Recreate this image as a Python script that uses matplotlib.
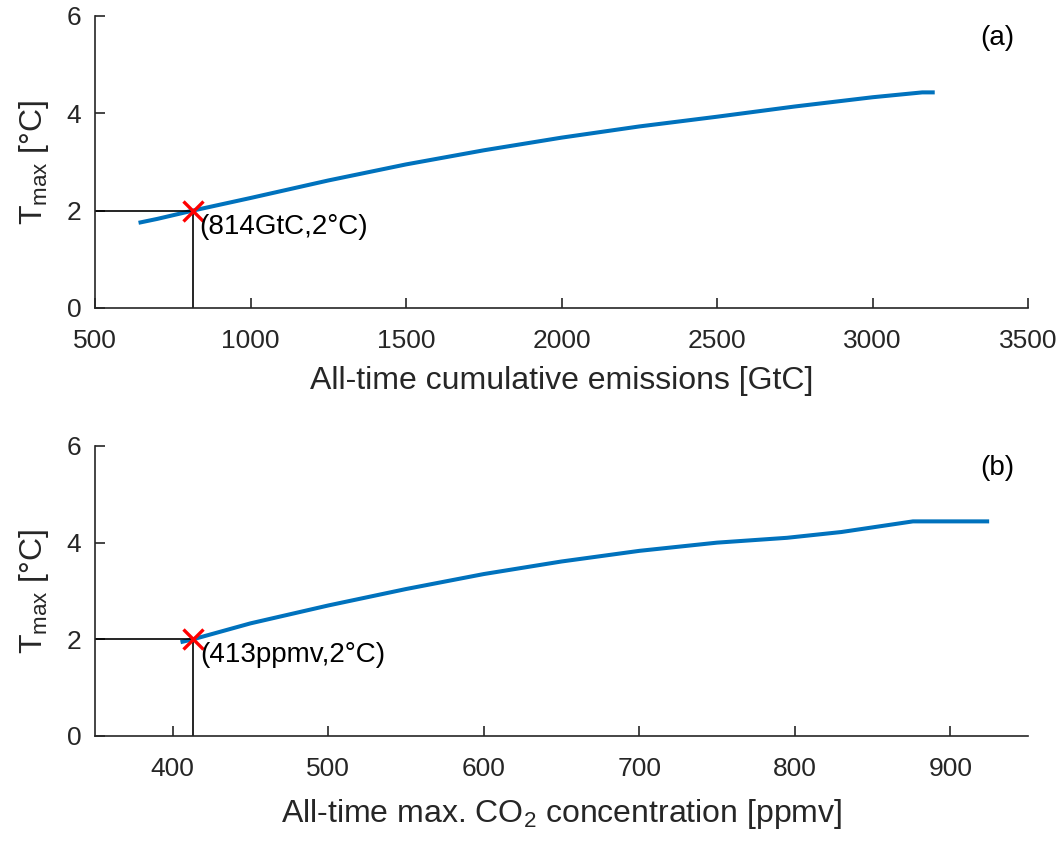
import matplotlib
matplotlib.use("Agg")
import matplotlib.pyplot as plt

plt.rcParams['font.family'] = ['Liberation Sans', 'DejaVu Sans']
plt.rcParams['mathtext.fontset'] = 'custom'
plt.rcParams['mathtext.rm'] = 'Liberation Sans'

# panel (a): cumulative emissions vs peak warming
emis = [640, 700, 814, 1000, 1250, 1500, 1750, 2000, 2250, 2500, 2750, 3000, 3160, 3200]
tmax_a = [1.75, 1.83, 2.0, 2.26, 2.62, 2.95, 3.24, 3.50, 3.73, 3.93, 4.14, 4.33, 4.43, 4.43]

# panel (b): max CO2 concentration vs peak warming
co2 = [405, 413, 450, 500, 550, 600, 650, 700, 750, 795, 830, 876, 925]
tmax_b = [1.94, 2.0, 2.33, 2.70, 3.04, 3.35, 3.61, 3.83, 4.00, 4.10, 4.22, 4.44, 4.44]

pt_a = (814, 2)
pt_b = (413, 2)

blue = '#0072BD'
dark = '#262626'

fig = plt.figure(figsize=(10.64, 8.41), dpi=100)
ax1 = fig.add_axes([0.0893, 0.6338, 0.8769, 0.3472])
ax2 = fig.add_axes([0.0893, 0.1249, 0.8769, 0.3448])


def style(ax):
    for s in ['top', 'right']:
        ax.spines[s].set_visible(False)
    for s in ['left', 'bottom']:
        ax.spines[s].set_color(dark)
        ax.spines[s].set_linewidth(1.2)
    ax.tick_params(direction='in', length=7, width=1.2, color=dark,
                   labelcolor=dark, labelsize=19)
    ax.tick_params(axis='x', pad=15)
    ax.tick_params(axis='y', pad=10)
    ax.set_ylim(0, 6)
    ax.set_yticks([0, 2, 4, 6])
    ax.set_ylabel(r'$\mathregular{T_{max}}$ [°C]', fontsize=23, color=dark)
    ax.yaxis.set_label_coords(-0.047, 0.5)


# top panel
ax1.plot(emis, tmax_a, color=blue, lw=2.9, solid_capstyle='butt')
ax1.plot([500, pt_a[0]], [pt_a[1], pt_a[1]], color='black', lw=1.2)
ax1.plot([pt_a[0], pt_a[0]], [0, pt_a[1]], color='black', lw=1.2)
ax1.plot(pt_a[0], pt_a[1], marker='x', color='red', ms=14, mew=2.4)
ax1.annotate('(814GtC,2°C)', pt_a, xytext=(5, -11.5), textcoords='offset points',
             fontsize=20, va='center', ha='left')
ax1.text(0.967, 0.925, '(a)', transform=ax1.transAxes, fontsize=20, ha='center', va='center')
ax1.set_xlim(500, 3500)
ax1.set_xticks(range(500, 3501, 500))
style(ax1)
ax1.set_xlabel('All-time cumulative emissions [GtC]', fontsize=23, color=dark)
ax1.xaxis.set_label_coords(0.5, -0.2)

# bottom panel
ax2.plot(co2, tmax_b, color=blue, lw=2.9, solid_capstyle='butt')
ax2.plot([350, pt_b[0]], [pt_b[1], pt_b[1]], color='black', lw=1.2)
ax2.plot([pt_b[0], pt_b[0]], [0, pt_b[1]], color='black', lw=1.2)
ax2.plot(pt_b[0], pt_b[1], marker='x', color='red', ms=14, mew=2.4)
ax2.annotate('(413ppmv,2°C)', pt_b, xytext=(5, -11.5), textcoords='offset points',
             fontsize=20, va='center', ha='left')
ax2.text(0.967, 0.925, '(b)', transform=ax2.transAxes, fontsize=20, ha='center', va='center')
ax2.set_xlim(350, 950)
ax2.set_xticks(range(400, 901, 100))
style(ax2)
ax2.set_xlabel(r'All-time max. CO$_2$ concentration [ppmv]', fontsize=23, color=dark)
ax2.xaxis.set_label_coords(0.5, -0.21)

fig.savefig('out.png', dpi=100)
